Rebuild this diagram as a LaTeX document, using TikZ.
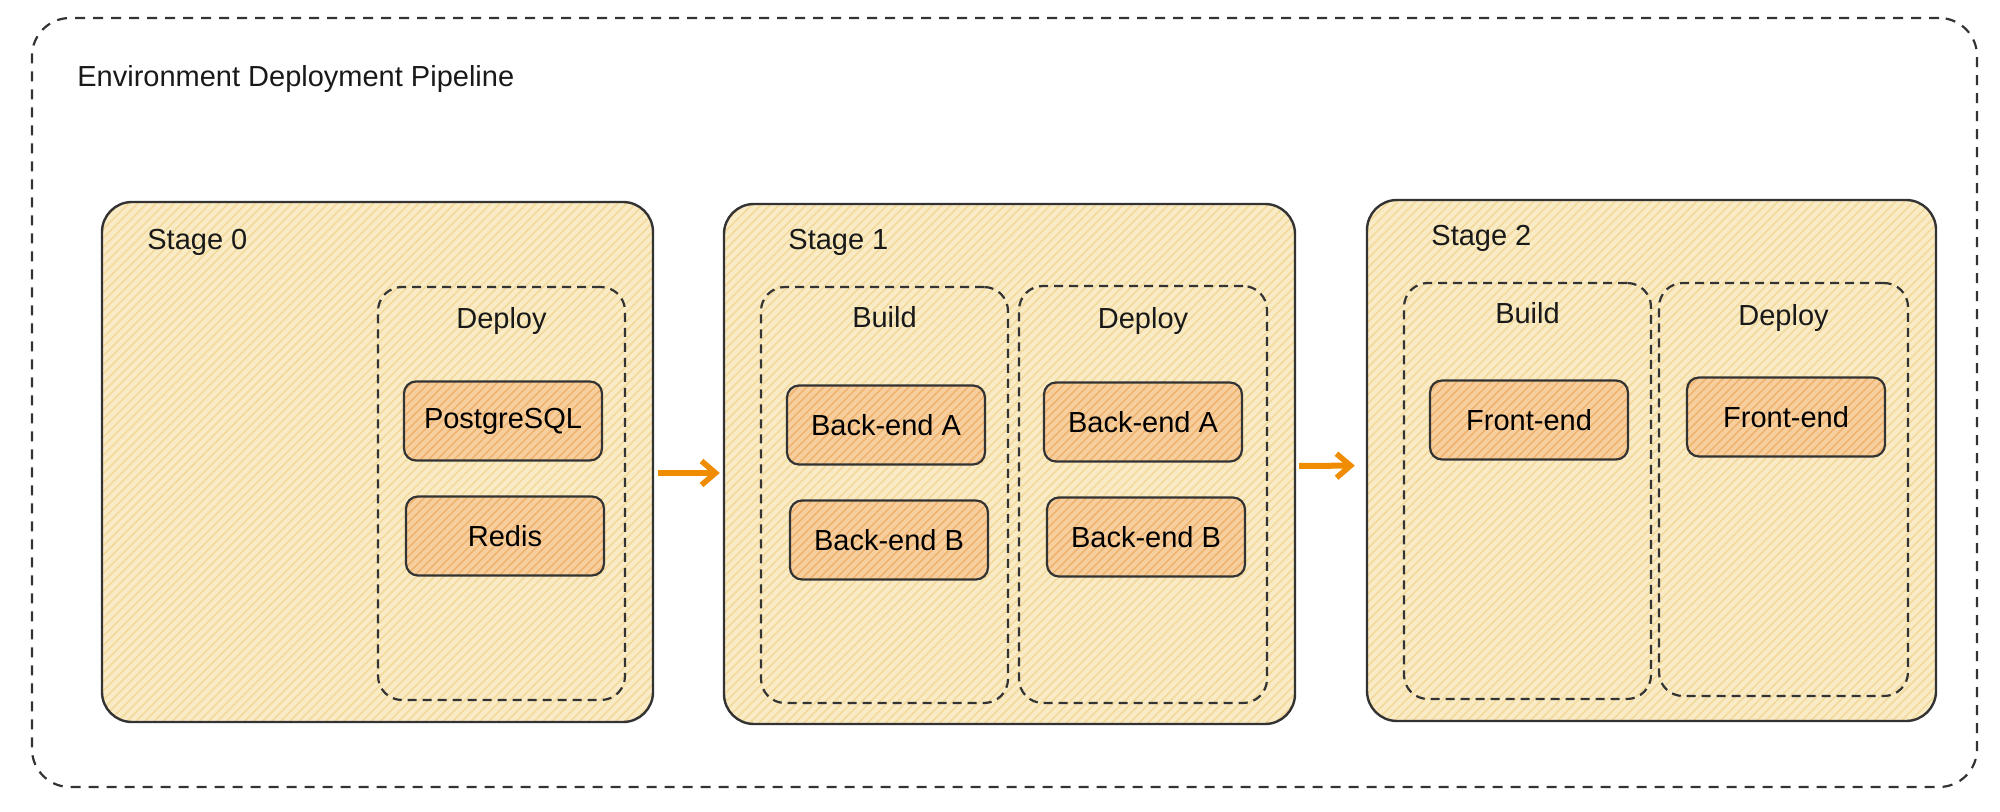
\documentclass[tikz,border=0pt]{standalone}
\usepackage{fontspec}
\setmainfont{Liberation Sans}
\usetikzlibrary{arrows.meta,patterns.meta}
\definecolor{stagefill}{HTML}{F9EBC6}
\definecolor{stagehatch}{HTML}{F3D99A}
\definecolor{jobfill}{HTML}{F7CF9F}
\definecolor{jobhatch}{HTML}{EFB36E}
\definecolor{inkline}{HTML}{333333}
\definecolor{flow}{HTML}{F08C00}
\tikzset{
    stagebox/.style={draw=inkline, line width=1.2pt, rounded corners=15pt, inner sep=0pt,
        preaction={fill=stagefill},
        pattern={Lines[angle=45,distance=3.2pt,line width=0.8pt]}, pattern color=stagehatch},
    groupbox/.style={draw=inkline, line width=1.1pt, dash pattern=on 4.5pt off 3pt,
        rounded corners=12pt, inner sep=0pt},
    jobbox/.style={draw=inkline, line width=1.1pt, rounded corners=6pt,
        preaction={fill=jobfill},
        pattern={Lines[angle=45,distance=3pt,line width=0.8pt]}, pattern color=jobhatch,
        minimum width=99pt, minimum height=39.5pt, font=\fontsize{14.5}{17}\selectfont},
    caption/.style={font=\fontsize{14.5}{17}\selectfont, text=black!90, inner sep=0pt},
    flowarrow/.style={draw=flow, line width=3pt,
        -{Straight Barb[length=7pt,width=12pt,line width=2.8pt]}},
}

\begin{document}
\begin{tikzpicture}[x=0.5pt,y=-0.5pt]
    \useasboundingbox (0,0) rectangle (2000,812);

    % outer pipeline frame
    \node[draw=inkline, line width=1.1pt, dash pattern=on 5pt off 4pt, rounded corners=19pt,
        minimum width=972.5pt, minimum height=384.5pt, inner sep=0pt] (pipeline) at (1004.5,402.5) {};
    \node[caption, anchor=west] (title) at (77,79) {Environment Deployment Pipeline};

    % stages
    \node[stagebox, minimum width=275.5pt, minimum height=260pt] (stage0) at (377.5,462) {};
    \node[stagebox, minimum width=285.5pt, minimum height=260pt] (stage1) at (1009.5,464) {};
    \node[stagebox, minimum width=284.5pt, minimum height=260.5pt] (stage2) at (1651.5,460.5) {};
    \node[caption, anchor=west] (stage0label) at (147,242) {Stage 0};
    \node[caption, anchor=west] (stage1label) at (788,242) {Stage 1};
    \node[caption, anchor=west] (stage2label) at (1431,238) {Stage 2};

    % build / deploy groups
    \node[groupbox, minimum width=123.5pt, minimum height=206.5pt] (deploy0) at (501.5,493.5) {};
    \node[groupbox, minimum width=123.5pt, minimum height=208pt] (build1) at (884.5,495) {};
    \node[groupbox, minimum width=124pt, minimum height=208.5pt] (deploy1) at (1143,494.5) {};
    \node[groupbox, minimum width=123.5pt, minimum height=208pt] (build2) at (1527.5,491) {};
    \node[groupbox, minimum width=124.5pt, minimum height=206.5pt] (deploy2) at (1783.5,489.5) {};
    \node[caption, anchor=base] (deploy0label) at ([yshift=-21.5pt]deploy0.north) {Deploy};
    \node[caption, anchor=base] (build1label) at ([yshift=-21pt]build1.north) {Build};
    \node[caption, anchor=base] (deploy1label) at ([yshift=-22pt]deploy1.north) {Deploy};
    \node[caption, anchor=base] (build2label) at ([yshift=-21pt]build2.north) {Build};
    \node[caption, anchor=base] (deploy2label) at ([yshift=-22pt]deploy2.north) {Deploy};

    % jobs
    \node[jobbox] (postgres) at (503,421) {PostgreSQL};
    \node[jobbox] (redis) at (505,536) {Redis};
    \node[jobbox] (buildA) at (886,425) {Back-end A};
    \node[jobbox] (buildB) at (889,540) {Back-end B};
    \node[jobbox] (deployA) at (1143,422) {Back-end A};
    \node[jobbox] (deployB) at (1146,537) {Back-end B};
    \node[jobbox] (buildFE) at (1529,420) {Front-end};
    \node[jobbox] (deployFE) at (1786,417) {Front-end};

    \draw[flowarrow, shorten <=2pt, shorten >=1.5pt] ([yshift=-5.5pt]stage0.east) -- ([yshift=-4.5pt]stage1.west);
    \draw[flowarrow, shorten <=1.5pt, shorten >=5.5pt] ([yshift=-1pt]stage1.east) -- ([yshift=-2.5pt]stage2.west);
\end{tikzpicture}
\end{document}
